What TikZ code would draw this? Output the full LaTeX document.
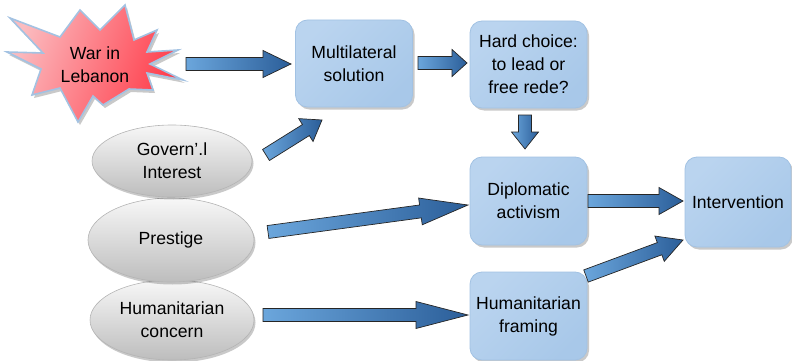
\documentclass[tikz,border=0pt]{standalone}
\usepackage{fontspec}
\setmainfont{Liberation Sans}
\usetikzlibrary{calc,shapes.geometric,shadows}
\definecolor{boxA}{HTML}{BAD4EF}
\definecolor{boxM}{HTML}{E8F1FB}
\definecolor{boxB}{HTML}{A8C8E9}
\definecolor{boxborder}{HTML}{A2C2E3}
\definecolor{ellA}{HTML}{F7F7F7}
\definecolor{ellB}{HTML}{BDBDBD}
\definecolor{ellborder}{HTML}{B4B4B4}
\definecolor{arrA}{HTML}{6BA6DC}
\definecolor{arrB}{HTML}{2B5E99}
\definecolor{starA}{HTML}{FBBCC0}
\definecolor{starB}{HTML}{FF3A48}
\definecolor{starborder}{HTML}{A3C2E2}
\newcommand\lbl{\fontsize{17.6}{23}\selectfont}
\newcommand\shw{6.5pt}
\newcommand\hhw{13.5pt}
\newcommand\barrow[3]{%
  \coordinate (ba-n) at ($(#2)!#3!(#1)$);
  \draw[blockarrow] ($(#1)!\shw!90:(#2)$) -- ($(ba-n)!\shw!90:(#2)$) -- ($(ba-n)!\hhw!90:(#2)$) -- (#2)
    -- ($(ba-n)!\hhw!-90:(#2)$) -- ($(ba-n)!\shw!-90:(#2)$) -- ($(#1)!\shw!-90:(#2)$) -- cycle;
}
\begin{document}
\begin{tikzpicture}[x=1pt,y=-1pt,
  box/.style={rectangle, rounded corners=12pt, draw=boxborder, line width=0.8pt,
    left color=boxA, middle color=boxM, right color=boxB, shading angle=45,
    minimum width=117pt, minimum height=87pt, align=center, font=\lbl, inner sep=1pt,
    drop shadow={shadow xshift=2pt, shadow yshift=-2.5pt, opacity=0.3, fill=black!70}},
  ell/.style={ellipse, draw=ellborder, line width=0.6pt, top color=ellA, bottom color=ellB,
    inner sep=0pt, align=center, font=\lbl,
    drop shadow={shadow xshift=1.5pt, shadow yshift=-2.5pt, opacity=0.3, fill=black!70}},
  blockarrow/.style={draw=black!85, line width=0.7pt, line join=miter, left color=arrA, right color=arrB},
  starstyle/.style={draw=starborder, line width=1.6pt, line join=miter, left color=starA, right color=starB, shading angle=70,
    drop shadow={shadow xshift=2pt, shadow yshift=-3pt, opacity=0.3, fill=black!70}}
]
\useasboundingbox (0,0) rectangle (792,361);

% starburst
\path[starstyle] (125,5) -- (134,40) -- (157,30) -- (147,52) -- (178,50) -- (150,64) -- (183,80) -- (147,73)
  -- (153,90) -- (129,89) -- (103,105) -- (93,96) -- (78,122) -- (60,88) -- (32,95) -- (41,69)
  -- (7,52) -- (43,53) -- (10,18) -- (60,37) -- (80,10) -- (100,30) -- cycle;
\node[font=\lbl, align=center] (war) at (95,65) {War in\\Lebanon};

% ellipses (bottom first so upper ones overlap)
\node[ell, minimum width=164pt, minimum height=80pt] (hcon) at (172,320) {Humanitarian\\concern};
\node[ell, minimum width=166pt, minimum height=84pt] (prest) at (171,240) {Prestige};
\node[ell, minimum width=160pt, minimum height=72pt] (gov) at (172,161) {Govern’.l\\Interest};

% boxes
\node[box] (multi) at (354,63.5) {Multilateral\\solution};
\node[box] (hard) at (528.5,64.5) {Hard choice:\\to lead or\\free rede?};
\node[box, minimum height=88pt] (diplo) at (528.5,201) {Diplomatic\\activism};
\node[box, minimum width=106pt, minimum height=90pt] (interv) at (738,202) {Intervention};
\node[box, minimum height=88pt] (hframe) at (528.5,316) {Humanitarian\\framing};

% arrow end points
\coordinate (a1s) at (186,64);  \coordinate (a1e) at (291,64);
\coordinate (a2s) at (418,63);  \coordinate (a2e) at (467,63);
\coordinate (a3s) at (525,115); \coordinate (a3e) at (525,149);
\coordinate (a4s) at (266,155); \coordinate (a4e) at (322,120);
\coordinate (a5s) at (268,232); \coordinate (a5e) at (468,205);
\coordinate (a6s) at (263,315); \coordinate (a6e) at (468,315);
\coordinate (a7s) at (588,201); \coordinate (a7e) at (683,201);
\coordinate (a8s) at (586,276); \coordinate (a8e) at (683,240);

\barrow{a1s}{a1e}{28pt}
\barrow{a2s}{a2e}{15pt}
\barrow{a3s}{a3e}{17pt}
\barrow{a4s}{a4e}{19pt}
\barrow{a5s}{a5e}{48pt}
\barrow{a6s}{a6e}{52pt}
\barrow{a7s}{a7e}{24pt}
\barrow{a8s}{a8e}{25pt}
\end{tikzpicture}
\end{document}
